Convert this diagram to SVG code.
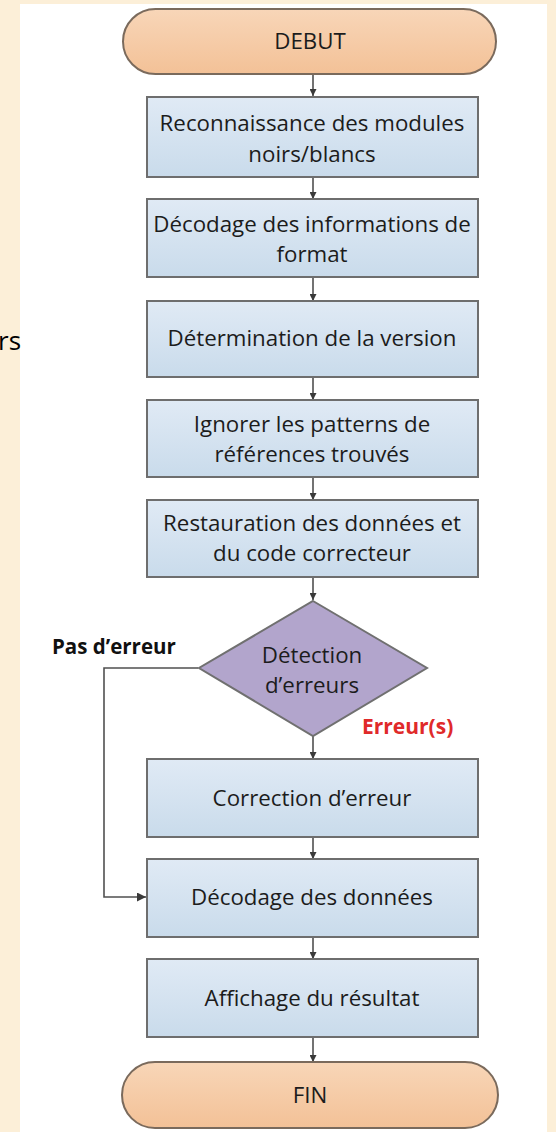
<svg xmlns="http://www.w3.org/2000/svg" width="556" height="1132" viewBox="0 0 556 1132">
<style>
.t{font-family:"Open Sans","Liberation Sans",sans-serif;font-size:22.3px;fill:#1c1c1c;text-anchor:middle}
.b{font-family:"Open Sans","Liberation Sans",sans-serif;font-size:20.5px;font-weight:bold;fill:#111}
.box{fill:url(#gb);stroke:#6e6e6e;stroke-width:2}
.term{fill:url(#gt);stroke:#7a6a5c;stroke-width:2}
.dia{fill:#b2a5cc;stroke:#707070;stroke-width:2}
.c{fill:none;stroke:#505050;stroke-width:1.6}
</style>
<defs>
<linearGradient id="gb" x1="0" y1="0" x2="0" y2="1"><stop offset="0" stop-color="#e0eaf5"/><stop offset="1" stop-color="#c9dbeb"/></linearGradient>
<linearGradient id="gt" x1="0" y1="0" x2="0" y2="1"><stop offset="0" stop-color="#f8d6b8"/><stop offset="1" stop-color="#f3c197"/></linearGradient>
<marker id="ah" viewBox="0 0 10 10" refX="10" refY="5" markerWidth="7" markerHeight="7" markerUnits="userSpaceOnUse" orient="auto"><path d="M0,0 L10,5 L0,10 z" fill="#3a3a3a"/></marker>
<marker id="ah2" viewBox="0 0 10 10" refX="10" refY="5" markerWidth="9" markerHeight="9" markerUnits="userSpaceOnUse" orient="auto"><path d="M0,0 L10,5 L0,10 z" fill="#3a3a3a"/></marker>
</defs>
<rect x="0" y="0" width="556" height="1132" fill="#fcefd8"/>
<rect x="20" y="4" width="527" height="1128" fill="#ffffff"/>
<text x="-2" y="350" style="font-family:'Open Sans','Liberation Sans',sans-serif;font-size:26px;fill:#000">rs</text>
<g id="connectors">
<line class="c" x1="313" y1="75" x2="313" y2="96" marker-end="url(#ah)"/>
<line class="c" x1="313" y1="177" x2="313" y2="199" marker-end="url(#ah)"/>
<line class="c" x1="313" y1="277" x2="313" y2="301" marker-end="url(#ah)"/>
<line class="c" x1="313" y1="377" x2="313" y2="400" marker-end="url(#ah)"/>
<line class="c" x1="313" y1="477" x2="313" y2="500" marker-end="url(#ah)"/>
<line class="c" x1="313" y1="577" x2="313" y2="600" marker-end="url(#ah)"/>
<line class="c" x1="313" y1="736" x2="313" y2="759" marker-end="url(#ah)"/>
<line class="c" x1="313" y1="837" x2="313" y2="859" marker-end="url(#ah)"/>
<line class="c" x1="313" y1="937" x2="313" y2="959" marker-end="url(#ah)"/>
<line class="c" x1="313" y1="1037" x2="313" y2="1062" marker-end="url(#ah)"/>
<polyline class="c" points="198,668 104,668 104,897 146,897" marker-end="url(#ah2)"/>
<text class="b" x="52" y="654">Pas d’erreur</text>
<text class="b" x="362" y="734" style="fill:#e02a2a;font-size:21px">Erreur(s)</text>
</g>
<g id="debut"><rect class="term" x="123" y="9" width="373" height="65" rx="32.5"/><text class="t" x="310" y="49">DEBUT</text></g>
<g id="n1"><rect class="box" x="147" y="97" width="331" height="80"/><text class="t" x="312" y="131">Reconnaissance des modules</text><text class="t" x="312" y="162">noirs/blancs</text></g>
<g id="n2"><rect class="box" x="147" y="199" width="331" height="78"/><text class="t" x="312" y="232">Décodage des informations de</text><text class="t" x="312" y="262">format</text></g>
<g id="n3"><rect class="box" x="147" y="301" width="331" height="76"/><text class="t" x="312" y="346">Détermination de la version</text></g>
<g id="n4"><rect class="box" x="147" y="400" width="331" height="77"/><text class="t" x="312" y="432">Ignorer les patterns de</text><text class="t" x="312" y="462">références trouvés</text></g>
<g id="n5"><rect class="box" x="147" y="500" width="331" height="77"/><text class="t" x="312" y="531">Restauration des données et</text><text class="t" x="312" y="561">du code correcteur</text></g>
<g id="decision"><polygon class="dia" points="313,601 427,668 313,736 199,668"/><text class="t" x="312" y="663">Détection</text><text class="t" x="312" y="693">d’erreurs</text></g>
<g id="n6"><rect class="box" x="147" y="759" width="331" height="78"/><text class="t" x="312" y="806">Correction d’erreur</text></g>
<g id="n7"><rect class="box" x="147" y="859" width="331" height="78"/><text class="t" x="312" y="905">Décodage des données</text></g>
<g id="n8"><rect class="box" x="147" y="959" width="331" height="78"/><text class="t" x="312" y="1006">Affichage du résultat</text></g>
<g id="fin"><rect class="term" x="122" y="1062" width="376" height="66" rx="33"/><text class="t" x="310" y="1103">FIN</text></g>
</svg>
